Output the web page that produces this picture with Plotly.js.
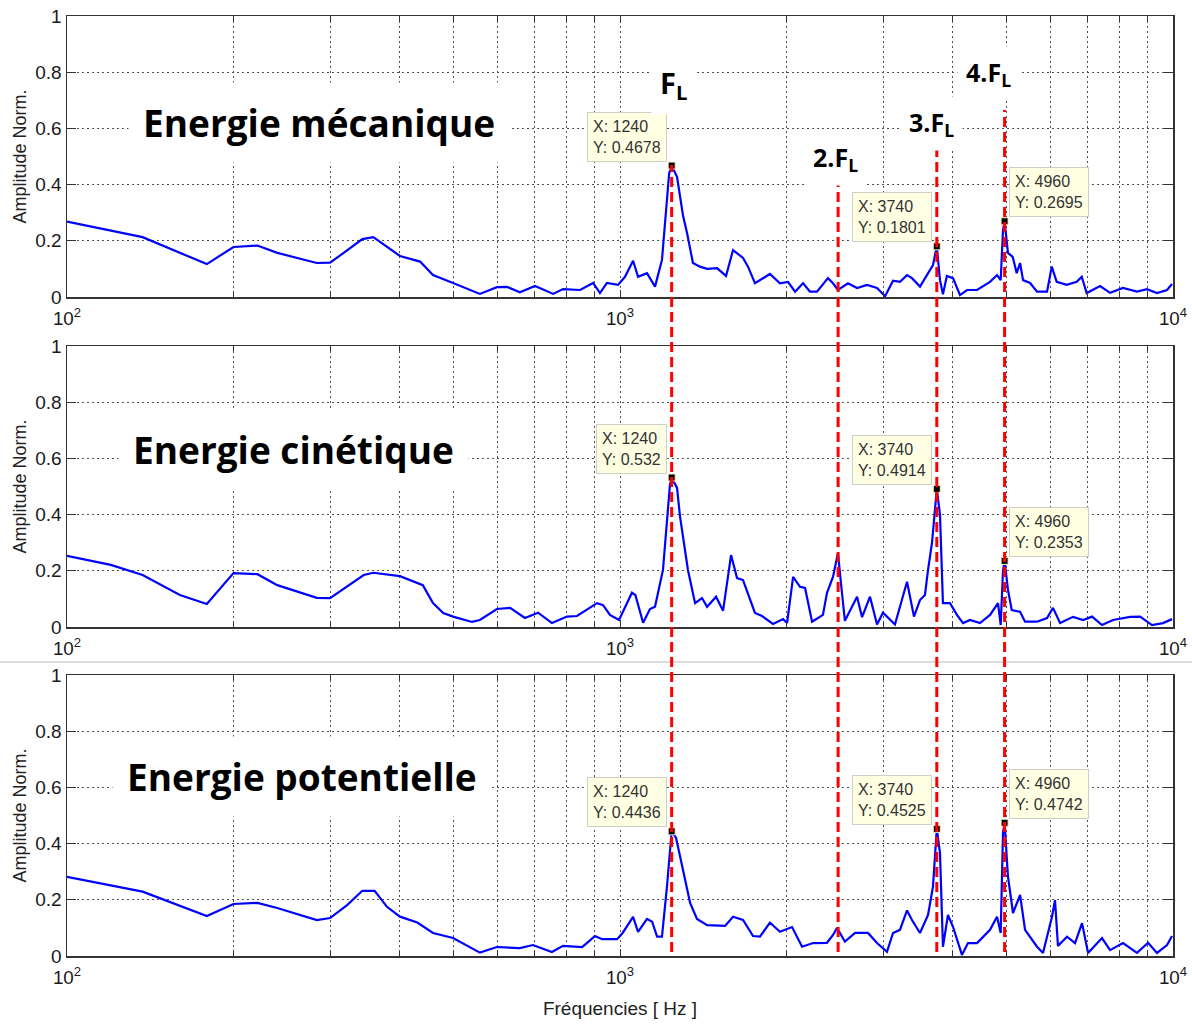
<!DOCTYPE html>
<html>
<head>
<meta charset="utf-8">
<script src="https://cdn.plot.ly/plotly-3.0.1.min.js"></script>
<style>html,body{margin:0;padding:0;background:#fff;}#chart{width:1192px;height:1024px;}</style>
</head>
<body>
<div id="chart"></div>
<script>
// ---------- data ----------
const freqMeca = [100,137,179,200,221,240,283,299,316,342,358,379,400,435,459,499,558,599,625,659,702,757,789,847,894,920,947,992,1021,1056,1078,1119,1157,1191,1227,1240,1268,1300,1322,1355,1395,1437,1498,1555,1601,1669,1704,1754,1867,1946,2013,2073,2143,2206,2271,2377,2428,2478,2584,2683,2797,2916,3015,3117,3208,3304,3373,3487,3606,3681,3740,3790,3837,3900,4001,4119,4242,4422,4668,4806,4880,4927,4960,5030,5130,5216,5290,5356,5515,5677,5919,6036,6162,6424,6697,6838,6981,7381,7695,8121,8608,8974,9356,9754,9960];
const ampMeca = [0.268,0.213,0.117,0.178,0.183,0.157,0.121,0.122,0.156,0.206,0.213,0.179,0.146,0.126,0.078,0.050,0.011,0.035,0.036,0.017,0.039,0.011,0.028,0.025,0.050,0.014,0.050,0.043,0.072,0.129,0.072,0.085,0.037,0.132,0.44,0.4678,0.428,0.29,0.228,0.121,0.108,0.100,0.103,0.075,0.167,0.139,0.108,0.049,0.082,0.049,0.054,0.019,0.049,0.019,0.019,0.067,0.049,0.025,0.049,0.032,0.043,0.032,0.003,0.058,0.054,0.078,0.067,0.037,0.085,0.114,0.1801,0.060,0.010,0.075,0.067,0.007,0.025,0.025,0.054,0.078,0.060,0.238,0.2695,0.157,0.143,0.085,0.121,0.060,0.050,0.019,0.019,0.108,0.054,0.043,0.054,0.072,0.014,0.039,0.015,0.032,0.019,0.028,0.014,0.025,0.046];

const freqCin = [100,120,137,160,179,200,221,240,283,299,344,358,400,440,459,479,499,540,558,599,633,673,711,753,802,836,909,932,959,996,1051,1066,1101,1133,1157,1196,1231,1240,1268,1284,1327,1367,1407,1437,1492,1536,1588,1628,1669,1704,1754,1806,1891,1972,2005,2056,2116,2161,2225,2328,2367,2428,2478,2520,2551,2683,2740,2832,2916,2989,3142,3304,3401,3487,3560,3606,3666,3740,3790,3837,3951,4068,4171,4295,4477,4668,4826,4880,4927,4960,5030,5110,5290,5401,5677,5919,6067,6249,6596,6879,7139,7440,7791,8363,8719,9164,9592,9960];
const ampCin = [0.253,0.221,0.185,0.114,0.082,0.192,0.188,0.149,0.104,0.103,0.185,0.193,0.181,0.149,0.085,0.050,0.037,0.018,0.025,0.064,0.068,0.032,0.051,0.014,0.037,0.039,0.085,0.078,0.043,0.025,0.122,0.114,0.015,0.064,0.072,0.203,0.505,0.532,0.495,0.393,0.203,0.085,0.103,0.072,0.108,0.058,0.256,0.174,0.167,0.121,0.050,0.039,0.011,0.028,0.014,0.178,0.143,0.139,0.019,0.043,0.121,0.179,0.263,0.121,0.022,0.108,0.035,0.108,0.009,0.051,0.009,0.161,0.037,0.096,0.114,0.203,0.299,0.4914,0.40,0.085,0.085,0.043,0.014,0.025,0.014,0.043,0.085,0.007,0.20,0.2353,0.132,0.060,0.054,0.019,0.019,0.032,0.068,0.014,0.036,0.025,0.037,0.007,0.025,0.036,0.037,0.007,0.014,0.028];

const freqPot = [100,137,179,200,221,240,283,299,321,342,360,379,400,430,459,499,558,599,659,696,753,789,854,901,928,988,1011,1056,1078,1119,1143,1167,1191,1216,1240,1263,1300,1339,1378,1437,1549,1601,1669,1740,1791,1867,1946,2047,2134,2234,2367,2428,2469,2551,2661,2808,2916,3039,3117,3208,3304,3373,3487,3606,3681,3740,3790,3837,3918,4001,4153,4258,4422,4668,4806,4880,4927,4960,5030,5137,5290,5401,5677,5820,6042,6118,6194,6433,6651,6847,7021,7440,7695,8121,8608,9014,9356,9754,9960];
const ampPot = [0.282,0.229,0.142,0.185,0.189,0.171,0.128,0.135,0.181,0.232,0.232,0.175,0.140,0.119,0.082,0.064,0.012,0.032,0.028,0.039,0.014,0.036,0.032,0.071,0.060,0.060,0.082,0.139,0.086,0.132,0.122,0.069,0.069,0.247,0.4436,0.42,0.306,0.189,0.132,0.110,0.107,0.140,0.128,0.071,0.069,0.119,0.086,0.103,0.033,0.046,0.047,0.075,0.100,0.051,0.082,0.082,0.046,0.015,0.082,0.093,0.162,0.128,0.082,0.146,0.247,0.4525,0.367,0.033,0.146,0.104,0.004,0.046,0.046,0.093,0.140,0.082,0.438,0.4742,0.282,0.153,0.217,0.093,0.033,0.011,0.140,0.199,0.036,0.069,0.046,0.117,0.011,0.064,0.021,0.046,0.011,0.047,0.011,0.039,0.071];

const panelTitles = ['Energie mécanique', 'Energie cinétique', 'Energie potentielle'];
const harmonicFreqs = [1240, 2480, 3740, 4960];
const harmonicLabels = ['F<sub>L</sub>', '2.F<sub>L</sub>', '3.F<sub>L</sub>', '4.F<sub>L</sub>'];
const tipFreqs = [[1240, 3740, 4960], [1240, 3740, 4960], [1240, 3740, 4960]];
const tipAmps = [[0.4678, 0.1801, 0.2695], [0.532, 0.4914, 0.2353], [0.4436, 0.4525, 0.4742]];
const xAxisTitle = 'Fréquencies [ Hz ]';
const yAxisTitle = 'Amplitude Norm.';

// ---------- layout geometry ----------
const W = 1192, H = 1024;
const M = {l: 67, r: 19, t: 16, b: 68};
const plotH = H - M.t - M.b;           // 940
const plotW = W - M.l - M.r;           // 1106
const py = p => (H - M.b - p) / plotH; // pixel y -> paper
const px = p => (p - M.l) / plotW;     // pixel x -> paper
const domains = [[py(297), 1], [py(627), py(346)], [0, py(675)]];

const gridCol = '#505050';
const axisCol = '#333';
const tickFontFam = 'Liberation Sans, Arial, sans-serif';

const series = [[freqMeca, ampMeca], [freqCin, ampCin], [freqPot, ampPot]];
const traces = [];
const layout = {
  width: W, height: H,
  margin: M,
  paper_bgcolor: '#fff', plot_bgcolor: '#fff',
  showlegend: false,
  shapes: [], annotations: []
};

series.forEach((s, i) => {
  const n = i === 0 ? '' : String(i + 1);
  traces.push({
    x: s[0], y: s[1], xaxis: 'x' + n, yaxis: 'y' + n,
    type: 'scatter', mode: 'lines',
    line: {color: '#0000ff', width: 2.2},
    hoverinfo: 'skip'
  });
  traces.push({
    x: tipFreqs[i], y: tipAmps[i], xaxis: 'x' + n, yaxis: 'y' + n,
    type: 'scatter', mode: 'markers',
    marker: {symbol: 'square', size: 7, color: '#000', line: {color: '#f5f0c0', width: 1}},
    hoverinfo: 'skip'
  });
  const xa = {
    type: 'log', range: [2, 4], dtick: 1, exponentformat: 'power',
    anchor: 'y' + n, domain: [0, 1],
    showgrid: true, gridcolor: gridCol, griddash: '2px,3px', gridwidth: 1,
    minor: {dtick: 'D1', showgrid: true, gridcolor: gridCol, griddash: '2px,3px', gridwidth: 1,
            ticks: 'inside', ticklen: 5, tickcolor: axisCol},
    ticks: 'inside', ticklen: 7, tickcolor: axisCol,
    showline: true, linecolor: axisCol, linewidth: 1.5, mirror: 'ticks',
    zeroline: false,
    tickfont: {family: tickFontFam, size: 15, color: '#1a1a1a'},
    ticklabelstandoff: 5
  };
  if (i === 2) {
    xa.title = {text: xAxisTitle, font: {family: tickFontFam, size: 19, color: '#222'}, standoff: 14};
  }
  layout['xaxis' + n] = xa;
  layout['yaxis' + n] = {
    range: [0, 1], dtick: 0.2, anchor: 'x' + n, domain: domains[i],
    showgrid: true, gridcolor: gridCol, griddash: '2px,3px', gridwidth: 1,
    ticks: 'inside', ticklen: 9, tickcolor: axisCol,
    showline: true, linecolor: axisCol, linewidth: 1.5, mirror: 'ticks',
    zeroline: false,
    tickfont: {family: tickFontFam, size: 19, color: '#1a1a1a'},
    title: {text: yAxisTitle, font: {family: tickFontFam, size: 18, color: '#222'}, standoff: 4}
  };

  // panel titles
  const titlePos = [[319, 122], [293, 450], [302, 776]][i];
  layout.annotations.push({
    xref: 'paper', yref: 'paper', x: px(titlePos[0]), y: py(titlePos[1]),
    xanchor: 'center', yanchor: 'middle', showarrow: false,
    text: '<b>' + panelTitles[i] + '</b>',
    font: {family: 'Open Sans, Lato, sans-serif', size: 37, color: '#000'},
    bgcolor: '#fff', borderpad: 14
  });

  // data tips
  tipFreqs[i].forEach((f, k) => {
    const right = k === 2;
    layout.annotations.push({
      xref: 'x' + n, yref: 'y' + n, x: Math.log10(f), y: tipAmps[i][k],
      xanchor: right ? 'left' : 'right', yanchor: 'bottom',
      xshift: right ? 4 : -5, yshift: 4,
      showarrow: false, align: 'left',
      text: 'X: ' + f + '<br>Y: ' + tipAmps[i][k],
      font: {family: 'Liberation Sans Narrow, Arial Narrow, Liberation Sans, sans-serif', size: 16, color: '#333'},
      bgcolor: '#ffffe3', bordercolor: '#cfcfc4', borderwidth: 1, borderpad: 5
    });
  });
});

// harmonic dashed lines spanning all panels
const lineTops = [165, 185, 149, 110];
const labelPos = [[673, 84, 29], [835, 158, 25], [931, 123, 25], [988, 73, 25]];
harmonicFreqs.forEach((f, k) => {
  layout.shapes.push({
    type: 'line', xref: 'x', yref: 'paper', x0: f, x1: f,
    y0: py(952), y1: py(lineTops[k]), layer: 'above',
    line: {color: '#ff0000', width: 3, dash: '10px,5px'}
  });
  layout.annotations.push({
    xref: 'paper', yref: 'paper', x: px(labelPos[k][0]), y: py(labelPos[k][1]),
    xanchor: 'center', yanchor: 'middle', showarrow: false,
    text: '<b>' + harmonicLabels[k] + '</b>',
    font: {family: 'Open Sans, Lato, sans-serif', size: labelPos[k][2], color: '#000'},
    bgcolor: '#fff', borderpad: 8
  });
});

// faint separator line between the 2nd and 3rd panels
layout.shapes.push({
  type: 'line', xref: 'paper', yref: 'paper', x0: px(0), x1: px(W), y0: py(662), y1: py(662),
  line: {color: '#dcdcdc', width: 2}, layer: 'below'
});

Plotly.newPlot('chart', traces, layout, {staticPlot: true, displayModeBar: false});
</script>
</body>
</html>
